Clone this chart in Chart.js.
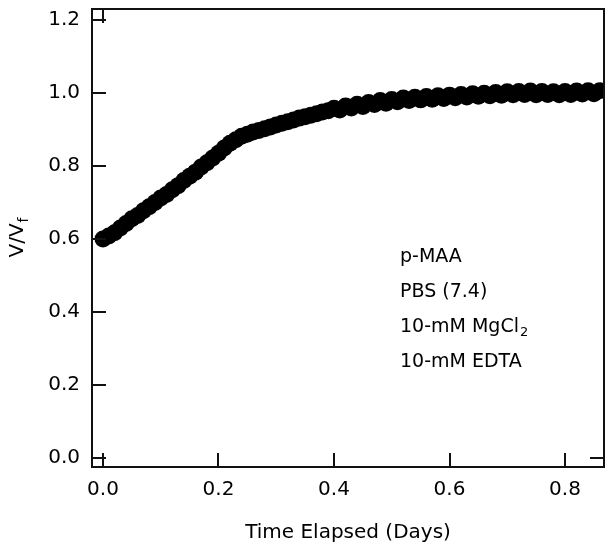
<!DOCTYPE html>
<html>
<head>
<meta charset="utf-8">
<script src="https://cdn.jsdelivr.net/npm/chart.js@4.4.1/dist/chart.umd.min.js"></script>
<style>
html,body{margin:0;padding:0;background:#fff;}
#wrap{width:614px;height:552px;}
</style>
</head>
<body>
<div id="wrap"><canvas id="c" width="614" height="552"></canvas></div>
<script>
const timeDays = [0.00,0.01,0.02,0.03,0.04,0.05,0.06,0.07,0.08,0.09,0.10,0.11,0.12,0.13,0.14,0.15,0.16,0.17,0.18,0.19,0.20,0.21,0.22,0.23,0.24,0.25,0.26,0.27,0.28,0.29,0.30,0.31,0.32,0.33,0.34,0.35,0.36,0.37,0.38,0.39,0.40,0.41,0.42,0.43,0.44,0.45,0.46,0.47,0.48,0.49,0.50,0.51,0.52,0.53,0.54,0.55,0.56,0.57,0.58,0.59,0.60,0.61,0.62,0.63,0.64,0.65,0.66,0.67,0.68,0.69,0.70,0.71,0.72,0.73,0.74,0.75,0.76,0.77,0.78,0.79,0.80,0.81,0.82,0.83,0.84,0.85,0.86];
const vRatio = [0.600,0.608,0.617,0.630,0.642,0.655,0.664,0.677,0.688,0.700,0.712,0.722,0.735,0.746,0.760,0.772,0.783,0.797,0.809,0.822,0.835,0.849,0.862,0.872,0.881,0.887,0.893,0.897,0.902,0.907,0.912,0.917,0.921,0.926,0.931,0.935,0.939,0.943,0.948,0.951,0.958,0.953,0.964,0.959,0.969,0.963,0.974,0.968,0.979,0.972,0.982,0.976,0.986,0.979,0.988,0.981,0.990,0.983,0.992,0.985,0.994,0.987,0.996,0.989,0.998,0.991,0.999,0.992,1.001,0.994,1.003,0.995,1.004,0.996,1.005,0.995,1.004,0.996,1.003,0.995,1.004,0.996,1.005,0.997,1.006,0.998,1.006];
const xTicks = [0.0,0.2,0.4,0.6,0.8];
const yTicks = [0.0,0.2,0.4,0.6,0.8,1.0,1.2];
const annotationLines = ["p-MAA","PBS (7.4)","10-mM MgCl","10-mM EDTA"];

const FONT = '"DejaVu Sans", Verdana, sans-serif';

const framePlugin = {
  id: 'frame',
  afterDraw(chart) {
    const {ctx, chartArea: a, scales} = chart;
    const xs = scales.x, ys = scales.y;
    ctx.save();
    ctx.strokeStyle = '#111';
    ctx.lineWidth = 2;
    ctx.beginPath();
    ctx.rect(a.left, a.top, a.right - a.left, a.bottom - a.top);
    ctx.stroke();
    const TL = 14;
    ctx.beginPath();
    yTicks.forEach(v => { const y = Math.round(ys.getPixelForValue(v)); ctx.moveTo(a.left, y); ctx.lineTo(a.left + TL, y); });
    xTicks.forEach(v => { const x = Math.round(xs.getPixelForValue(v)); ctx.moveTo(x, a.bottom); ctx.lineTo(x, a.bottom - TL); });
    const x0 = Math.round(xs.getPixelForValue(0));
    ctx.moveTo(x0, a.top); ctx.lineTo(x0, a.top + TL);
    const y0 = Math.round(ys.getPixelForValue(0));
    ctx.moveTo(a.right, y0); ctx.lineTo(a.right - TL, y0);
    ctx.stroke();

    ctx.fillStyle = '#000';
    ctx.font = '20px ' + FONT;
    ctx.textAlign = 'center';
    ctx.textBaseline = 'alphabetic';
    ctx.fillText('Time Elapsed (Days)', (a.left + a.right) / 2, 538);
    ctx.save();
    ctx.translate(23, 238);
    ctx.rotate(-Math.PI / 2);
    ctx.textAlign = 'left';
    ctx.font = '20px ' + FONT;
    const w = ctx.measureText('V/V').width;
    ctx.font = '14px ' + FONT;
    const wf = ctx.measureText('f').width;
    const start = -(w + wf) / 2;
    ctx.font = '20px ' + FONT;
    ctx.fillText('V/V', start, 0);
    ctx.font = '14px ' + FONT;
    ctx.fillText('f', start + w + 1, 5);
    ctx.restore();
    ctx.textAlign = 'left';
    const ax = 400;
    const bases = [262, 297, 332, 367];
    annotationLines.forEach((t, i) => {
      ctx.font = '19px ' + FONT;
      ctx.fillText(t, ax, bases[i]);
      if (i === 2) {
        const tw = ctx.measureText(t).width;
        ctx.font = '13px ' + FONT;
        ctx.fillText('2', ax + tw + 1, bases[i] + 4);
      }
    });
    ctx.restore();
  }
};

new Chart(document.getElementById('c'), {
  type: 'scatter',
  data: {
    datasets: [{
      data: timeDays.map((t, i) => ({x: t, y: vRatio[i]})),
      backgroundColor: '#000',
      borderColor: '#000',
      borderWidth: 0,
      pointRadius: 8.5,
      pointHoverRadius: 8.5
    }]
  },
  options: {
    responsive: false,
    animation: false,
    devicePixelRatio: 1,
    layout: {padding: {top: 9, right: 10, left: 0, bottom: 0}},
    plugins: {legend: {display: false}, tooltip: {enabled: false}},
    scales: {
      x: {
        type: 'linear', min: -0.019, max: 0.8675,
        grid: {display: false, drawTicks: false},
        border: {display: false},
        afterBuildTicks(s) { s.ticks = xTicks.map(v => ({value: v})); },
        afterFit(s) { s.height = 85; s.paddingLeft = 0; s.paddingRight = 0; },
        ticks: {color: '#000', font: {family: FONT, size: 20}, padding: 11, maxRotation: 0, callback: v => v.toFixed(1)}
      },
      y: {
        type: 'linear', min: -0.025, max: 1.23,
        grid: {display: false, drawTicks: false},
        border: {display: false},
        afterBuildTicks(s) { s.ticks = yTicks.map(v => ({value: v})); },
        afterFit(s) { s.width = 92; s.paddingTop = 0; s.paddingBottom = 0; },
        ticks: {color: '#000', font: {family: FONT, size: 20}, padding: 12, callback: v => v.toFixed(1)}
      }
    }
  },
  plugins: [framePlugin]
});
</script>
</body>
</html>
